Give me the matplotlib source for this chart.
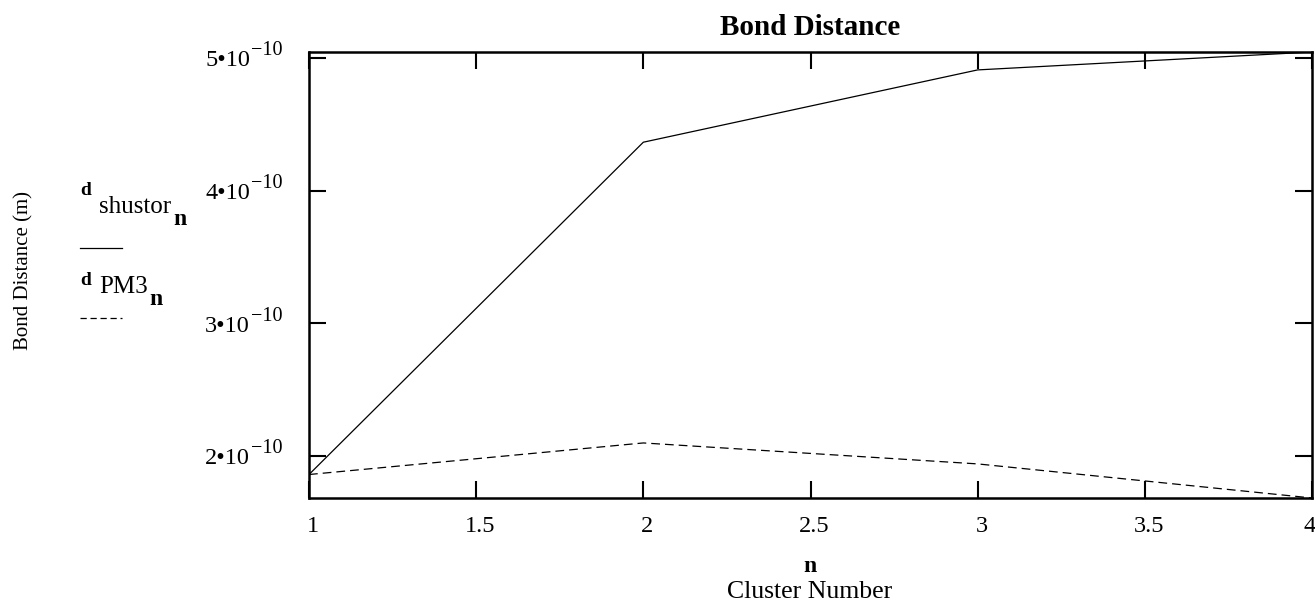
import numpy as np
import matplotlib
matplotlib.use("Agg")
import matplotlib.pyplot as plt
import matplotlib.transforms as mtransforms
from matplotlib.lines import Line2D

plt.rcParams['font.family'] = ['Liberation Serif', 'DejaVu Serif']

# cluster number and bond distances (m)
n = [1, 2, 3, 4]
d_shustor = [1.86e-10, 4.365e-10, 4.91e-10, 5.045e-10]
d_pm3 = [1.86e-10, 2.098e-10, 1.94e-10, 1.683e-10]

xticks = [1, 1.5, 2, 2.5, 3, 3.5, 4]
xtick_labels = ['1', '1.5', '2', '2.5', '3', '3.5', '4']
yticks = [2e-10, 3e-10, 4e-10, 5e-10]
ytick_mant = ['2', '3', '4', '5']
ytick_exp = '\u221210'

W, H = 1315, 605
fig = plt.figure(figsize=(W / 100, H / 100), dpi=100)
ax = fig.add_axes([309 / W, 1 - 498 / H, (1312 - 309) / W, (498 - 52) / H])

ax.plot(n, d_shustor, color='black', lw=0.9)
ax.plot(n, d_pm3, color='black', lw=0.9, ls=(0, (7, 4)))

ax.set_xlim(min(n), max(n))
ax.set_ylim(min(min(d_shustor), min(d_pm3)), max(max(d_shustor), max(d_pm3)))

ax.set_xticks(xticks)
ax.set_xticklabels(xtick_labels)
ax.set_yticks(yticks)
ax.set_yticklabels([])
ax.tick_params(direction='in', length=12, width=1.5, top=True, right=True,
               labelsize=17.5, color='black')
ax.tick_params(axis='x', pad=13)
for s in ax.spines.values():
    s.set_linewidth(1.8)

# x labels sit a little right of their ticks, the last one is kept inside
shift = mtransforms.ScaledTranslation(4 / 100, 0, fig.dpi_scale_trans)
labels = ax.get_xticklabels()
for lbl in labels:
    lbl.set_transform(lbl.get_transform() + shift)
labels[-1].set_ha('right')

# y tick labels Mathcad style: "5•10" with a large exponent
ytrans = mtransforms.blended_transform_factory(fig.transFigure, ax.transData)
down = mtransforms.ScaledTranslation(0, -3 / 100, fig.dpi_scale_trans)
up = mtransforms.ScaledTranslation(0, 7 / 100, fig.dpi_scale_trans)
for v, m in zip(yticks, ytick_mant):
    fig.text(250 / W, v, m + '\u202210', transform=ytrans + down,
             ha='right', va='center', fontsize=17.5)
    fig.text(251 / W, v, ytick_exp, transform=ytrans + up,
             ha='left', va='center', fontsize=14.5)

ax.set_title('Bond Distance', fontsize=21, fontweight='bold', pad=12)
fig.text(24 / W, 1 - 270 / H, 'Bond Distance (m)', rotation=90,
         ha='center', va='center', fontsize=15)
fig.text(810 / W, 1 - 567 / H, 'n', ha='center', va='center',
         fontsize=17, fontweight='bold')
fig.text(810 / W, 1 - 592 / H, 'Cluster Number', ha='center', va='center',
         fontsize=18.5)

# legend, Mathcad style: label above its line sample
fig.text(80 / W, 1 - 195 / H, 'd', ha='left', va='baseline',
         fontsize=14, fontweight='bold')
fig.text(99 / W, 1 - 213 / H, 'shustor', ha='left', va='baseline', fontsize=18)
fig.text(173 / W, 1 - 225 / H, 'n', ha='left', va='baseline',
         fontsize=17, fontweight='bold')
fig.add_artist(Line2D([80 / W, 122 / W], [1 - 248 / H, 1 - 248 / H],
                      color='black', lw=0.9))
fig.text(80 / W, 1 - 285 / H, 'd', ha='left', va='baseline',
         fontsize=14, fontweight='bold')
fig.text(99 / W, 1 - 293 / H, 'PM3', ha='left', va='baseline', fontsize=18)
fig.text(149 / W, 1 - 305 / H, 'n', ha='left', va='baseline',
         fontsize=17, fontweight='bold')
fig.add_artist(Line2D([80 / W, 122 / W], [1 - 318 / H, 1 - 318 / H],
                      color='black', lw=0.9, ls=(0, (5, 3))))

fig.savefig('out.png', dpi=100)
